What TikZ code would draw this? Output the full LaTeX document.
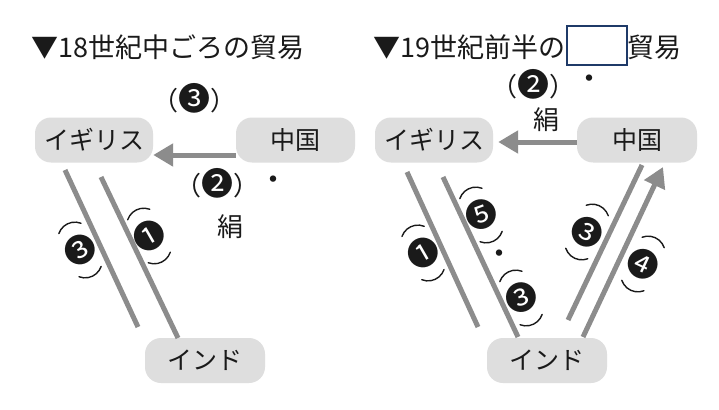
\documentclass[tikz,border=0pt]{standalone}
\usepackage{fontspec}
\setmainfont{Noto Sans CJK JP}
\usetikzlibrary{arrows.meta,calc}
\definecolor{boxgray}{HTML}{DEDEDE}
\definecolor{linegray}{HTML}{8C8C8C}
\definecolor{ink}{HTML}{1A1A1A}
\definecolor{navy}{HTML}{1F3A68}
\newcommand\discfont{\fontsize{32}{32}\selectfont}
\tikzset{
  place/.style={fill=boxgray, rounded corners=16pt, minimum width=118pt, minimum height=45pt,
    font=\fontsize{25}{25}\selectfont, text=ink, inner sep=0pt},
  flow/.style={draw=linegray, line width=5pt},
  flowarrow/.style={flow, -{Triangle[length=20pt,width=22pt]}},
  lbl/.style={font=\fontsize{26}{26}\selectfont, text=ink, inner sep=0pt},
  dotmark/.style={font=\fontsize{30}{30}\selectfont, text=ink, inner sep=0pt},
  disc/.style={font=\discfont, text=ink, inner sep=0pt},
  titletext/.style={font=\fontsize{27}{27}\selectfont, text=ink, inner sep=0pt, anchor=west},
  parenline/.style={draw=ink, line width=1.4pt, line cap=round},
  blankbox/.style={draw=navy, line width=2pt, fill=white, minimum width=60pt, minimum height=39pt, inner sep=0pt},
}
% #1 name, #2 x, #3 y, #4 line angle (screen, clockwise), #5 digit glyph, #6 digit rotation
\newcommand\tiltlabel[6]{%
  \node[disc, rotate=#6] (#1) at (#2,#3) {#5};
  \draw[parenline] ($(#1.center)+(#4:12)+(#4-46:17)$) arc[start angle=#4-46, end angle=#4+46, radius=17];
  \draw[parenline] ($(#1.center)+(#4+180:12)+(#4+134:17)$) arc[start angle=#4+134, end angle=#4+226, radius=17];
}
\begin{document}
\begin{tikzpicture}[x=1pt,y=-1pt]
\useasboundingbox[fill=white] (0,0) rectangle (719,409);

% ---------- left panel ----------
\node[titletext] (titleL) at (31,47) {▼18世紀中ごろの貿易};

\node[place] (ukL) at (94,140) {イギリス};
\node[place, minimum width=119pt] (cnL) at (295.5,140) {中国};
\node[place, minimum width=120pt] (inL) at (205,360.5) {インド};

\node[lbl] (topL) at (194,98) {（{\discfont ❸}）};
\node[lbl] (silkNumL) at (217,183) {（{\discfont ❷}）};
\node[dotmark] (dotL) at (273,183) {・};
\node[lbl] (silkL) at (230,227) {絹};

\draw[flowarrow] ($(cnL.west)+(0,15)$) -- ($(ukL.east)+(0,15)$);

\coordinate (a1) at (65,170);  \coordinate (a2) at (138,327);
\coordinate (b1) at (101,177); \coordinate (b2) at (178,338);
\draw[flow] (a1) -- (a2);
\draw[flow] (b1) -- (b2);

\tiltlabel{nL1}{149}{236}{64.4}{❶}{30}
\tiltlabel{nL3}{80}{250}{65}{❸}{30}

% ---------- right panel ----------
\node[titletext] (titleR) at (373,47) {▼19世紀前半の};
\node[blankbox] (blank) at (597,45.5) {};
\node[titletext] (titleR2) at (627,47) {貿易};

\node[place] (ukR) at (434,140) {イギリス};
\node[place, minimum width=120pt] (cnR) at (637,140) {中国};
\node[place, minimum width=120pt] (inR) at (547,360.5) {インド};

\node[lbl] (silkNumR) at (533,84) {（{\discfont ❷}）};
\node[dotmark] (dotR) at (589,82) {・};
\node[lbl] (silkR) at (546,120) {絹};

\draw[flowarrow] ($(cnR.west)+(0,2)$) -- ($(ukR.east)+(5,2)$);

\coordinate (l1a) at (407,172); \coordinate (l1b) at (478,327);
\coordinate (l2a) at (443,177); \coordinate (l2b) at (518,337);
\coordinate (r1a) at (642,165); \coordinate (r1b) at (568,320);
\coordinate (r2a) at (583,337); \coordinate (r2b) at (663,167);
\draw[flow] (l1a) -- (l1b);
\draw[flow] (l2a) -- (l2b);
\draw[flow] (r1a) -- (r1b);
\draw[flowarrow] (r2a) -- (r2b);

\tiltlabel{nR1}{423}{253}{65.4}{❶}{30}
\tiltlabel{nR5}{481}{215}{64.9}{❺}{20}
\tiltlabel{nR3a}{521}{298}{64.9}{❸}{20}
\node[dotmark] (dotMid) at (499,257) {・};
\tiltlabel{nR3b}{587}{232}{115.5}{❸}{-25}
\tiltlabel{nR4}{643}{264}{115.2}{❹}{-25}
\end{tikzpicture}
\end{document}
